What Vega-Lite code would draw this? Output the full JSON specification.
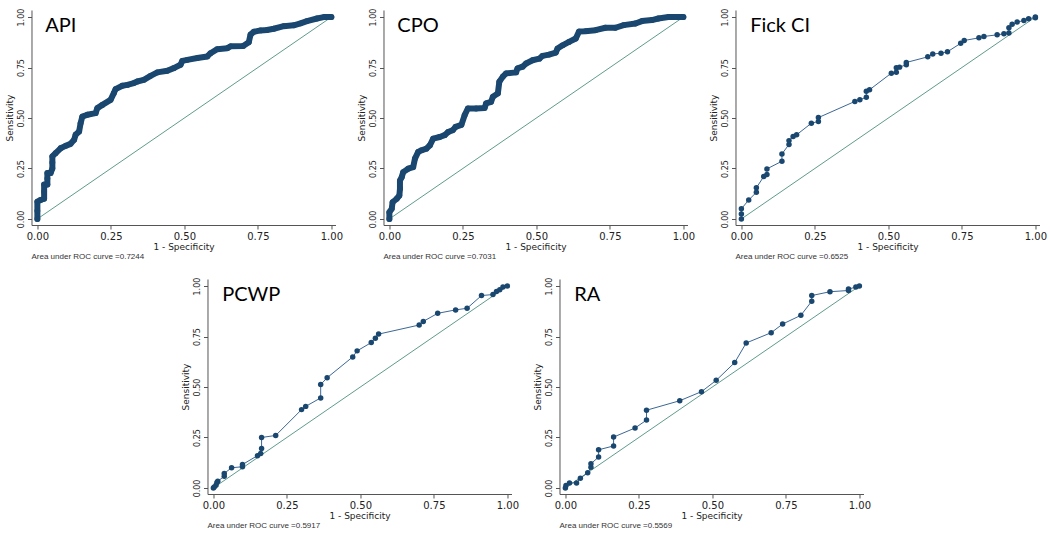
{
  "$schema": "https://vega.github.io/schema/vega-lite/v6.json",
  "background": "white",
  "padding": {"left": 5, "top": 8, "right": 5, "bottom": 5},
  "config": {
    "view": {"stroke": null},
    "axis": {"grid": false, "domainColor": "#555", "tickColor": "#555", "labelColor": "#222", "titleColor": "#222", "labelFont": "DejaVu Sans", "titleFont": "DejaVu Sans", "titleFontWeight": "normal", "tickSize": 4, "domainWidth": 1, "tickWidth": 1, "labelFlush": false},
    "axisX": {"labelFontSize": 10, "titleFontSize": 9, "labelPadding": 2, "titlePadding": 1},
    "axisY": {"labelFontSize": 8, "titleFontSize": 9, "labelAngle": 270, "labelAlign": "center", "labelBaseline": "bottom", "labelPadding": 2, "titlePadding": 3},
    "title": {"font": "Liberation Sans", "fontSize": 8, "fontWeight": "normal", "color": "#333", "orient": "bottom", "anchor": "start", "frame": "group", "offset": 2}
  },
  "datasets": {
    "api": [
      {"fpr":0,"sens":0},{"fpr":0,"sens":0.04},{"fpr":0,"sens":0.086},{"fpr":0.011,"sens":0.094},{"fpr":0.023,"sens":0.1},{"fpr":0.023,"sens":0.135},{"fpr":0.023,"sens":0.17},{"fpr":0.034,"sens":0.17},{"fpr":0.034,"sens":0.2},{"fpr":0.034,"sens":0.227},{"fpr":0.045,"sens":0.227},{"fpr":0.051,"sens":0.25},{"fpr":0.051,"sens":0.28},{"fpr":0.051,"sens":0.31},{"fpr":0.062,"sens":0.326},{"fpr":0.079,"sens":0.35},{"fpr":0.096,"sens":0.362},{"fpr":0.113,"sens":0.372},{"fpr":0.125,"sens":0.392},{"fpr":0.13,"sens":0.417},{"fpr":0.142,"sens":0.433},{"fpr":0.147,"sens":0.474},{"fpr":0.153,"sens":0.507},{"fpr":0.17,"sens":0.516},{"fpr":0.198,"sens":0.524},{"fpr":0.204,"sens":0.549},{"fpr":0.221,"sens":0.565},{"fpr":0.249,"sens":0.59},{"fpr":0.26,"sens":0.623},{"fpr":0.266,"sens":0.643},{"fpr":0.289,"sens":0.66},{"fpr":0.306,"sens":0.664},{"fpr":0.328,"sens":0.673},{"fpr":0.34,"sens":0.681},{"fpr":0.362,"sens":0.689},{"fpr":0.385,"sens":0.709},{"fpr":0.408,"sens":0.726},{"fpr":0.442,"sens":0.734},{"fpr":0.464,"sens":0.747},{"fpr":0.487,"sens":0.764},{"fpr":0.493,"sens":0.783},{"fpr":0.51,"sens":0.788},{"fpr":0.544,"sens":0.797},{"fpr":0.578,"sens":0.805},{"fpr":0.589,"sens":0.821},{"fpr":0.612,"sens":0.841},{"fpr":0.646,"sens":0.846},{"fpr":0.657,"sens":0.855},{"fpr":0.7,"sens":0.857},{"fpr":0.719,"sens":0.875},{"fpr":0.725,"sens":0.913},{"fpr":0.736,"sens":0.927},{"fpr":0.759,"sens":0.934},{"fpr":0.781,"sens":0.936},{"fpr":0.804,"sens":0.942},{"fpr":0.838,"sens":0.955},{"fpr":0.872,"sens":0.959},{"fpr":0.895,"sens":0.969},{"fpr":0.917,"sens":0.98},{"fpr":0.951,"sens":0.993},{"fpr":0.974,"sens":1},{"fpr":1,"sens":1}
    ],
    "cpo": [
      {"fpr":0,"sens":0},{"fpr":0,"sens":0.033},{"fpr":0.008,"sens":0.05},{"fpr":0.011,"sens":0.083},{"fpr":0.025,"sens":0.1},{"fpr":0.034,"sens":0.116},{"fpr":0.036,"sens":0.15},{"fpr":0.036,"sens":0.19},{"fpr":0.042,"sens":0.207},{"fpr":0.047,"sens":0.232},{"fpr":0.064,"sens":0.249},{"fpr":0.081,"sens":0.257},{"fpr":0.087,"sens":0.299},{"fpr":0.098,"sens":0.332},{"fpr":0.109,"sens":0.34},{"fpr":0.126,"sens":0.348},{"fpr":0.138,"sens":0.365},{"fpr":0.149,"sens":0.398},{"fpr":0.171,"sens":0.406},{"fpr":0.188,"sens":0.415},{"fpr":0.2,"sens":0.431},{"fpr":0.216,"sens":0.44},{"fpr":0.225,"sens":0.456},{"fpr":0.245,"sens":0.466},{"fpr":0.256,"sens":0.514},{"fpr":0.267,"sens":0.547},{"fpr":0.295,"sens":0.547},{"fpr":0.324,"sens":0.55},{"fpr":0.329,"sens":0.572},{"fpr":0.346,"sens":0.58},{"fpr":0.352,"sens":0.605},{"fpr":0.369,"sens":0.622},{"fpr":0.374,"sens":0.68},{"fpr":0.386,"sens":0.705},{"fpr":0.397,"sens":0.721},{"fpr":0.431,"sens":0.726},{"fpr":0.436,"sens":0.746},{"fpr":0.453,"sens":0.754},{"fpr":0.465,"sens":0.77},{"fpr":0.487,"sens":0.786},{"fpr":0.51,"sens":0.794},{"fpr":0.521,"sens":0.808},{"fpr":0.543,"sens":0.814},{"fpr":0.566,"sens":0.824},{"fpr":0.572,"sens":0.844},{"fpr":0.589,"sens":0.86},{"fpr":0.611,"sens":0.877},{"fpr":0.634,"sens":0.894},{"fpr":0.645,"sens":0.928},{"fpr":0.667,"sens":0.93},{"fpr":0.701,"sens":0.935},{"fpr":0.735,"sens":0.947},{"fpr":0.769,"sens":0.947},{"fpr":0.797,"sens":0.96},{"fpr":0.837,"sens":0.968},{"fpr":0.859,"sens":0.98},{"fpr":0.893,"sens":0.985},{"fpr":0.915,"sens":0.993},{"fpr":0.949,"sens":1},{"fpr":1,"sens":1}
    ],
    "fick": [
      {"fpr":0,"sens":0},{"fpr":0,"sens":0.025},{"fpr":0,"sens":0.05},{"fpr":0.025,"sens":0.094},{"fpr":0.051,"sens":0.132},{"fpr":0.051,"sens":0.154},{"fpr":0.076,"sens":0.21},{"fpr":0.087,"sens":0.22},{"fpr":0.087,"sens":0.248},{"fpr":0.138,"sens":0.286},{"fpr":0.138,"sens":0.322},{"fpr":0.162,"sens":0.369},{"fpr":0.162,"sens":0.388},{"fpr":0.176,"sens":0.408},{"fpr":0.188,"sens":0.417},{"fpr":0.238,"sens":0.474},{"fpr":0.262,"sens":0.483},{"fpr":0.262,"sens":0.502},{"fpr":0.386,"sens":0.582},{"fpr":0.403,"sens":0.59},{"fpr":0.425,"sens":0.603},{"fpr":0.425,"sens":0.633},{"fpr":0.436,"sens":0.64},{"fpr":0.51,"sens":0.722},{"fpr":0.527,"sens":0.727},{"fpr":0.527,"sens":0.749},{"fpr":0.538,"sens":0.752},{"fpr":0.561,"sens":0.764},{"fpr":0.561,"sens":0.775},{"fpr":0.634,"sens":0.803},{"fpr":0.651,"sens":0.817},{"fpr":0.679,"sens":0.821},{"fpr":0.701,"sens":0.828},{"fpr":0.746,"sens":0.87},{"fpr":0.758,"sens":0.884},{"fpr":0.808,"sens":0.897},{"fpr":0.825,"sens":0.904},{"fpr":0.87,"sens":0.912},{"fpr":0.893,"sens":0.917},{"fpr":0.91,"sens":0.921},{"fpr":0.91,"sens":0.947},{"fpr":0.921,"sens":0.964},{"fpr":0.938,"sens":0.975},{"fpr":0.961,"sens":0.983},{"fpr":0.977,"sens":0.992},{"fpr":1,"sens":0.997},{"fpr":1,"sens":1}
    ],
    "pcwp": [
      {"fpr":0,"sens":0},{"fpr":0.003,"sens":0.005},{"fpr":0.009,"sens":0.013},{"fpr":0.012,"sens":0.027},{"fpr":0.015,"sens":0.033},{"fpr":0.037,"sens":0.058},{"fpr":0.037,"sens":0.072},{"fpr":0.062,"sens":0.1},{"fpr":0.099,"sens":0.105},{"fpr":0.099,"sens":0.116},{"fpr":0.15,"sens":0.16},{"fpr":0.161,"sens":0.171},{"fpr":0.164,"sens":0.196},{"fpr":0.164,"sens":0.25},{"fpr":0.212,"sens":0.26},{"fpr":0.3,"sens":0.388},{"fpr":0.314,"sens":0.404},{"fpr":0.365,"sens":0.446},{"fpr":0.365,"sens":0.512},{"fpr":0.387,"sens":0.546},{"fpr":0.474,"sens":0.649},{"fpr":0.489,"sens":0.679},{"fpr":0.537,"sens":0.72},{"fpr":0.551,"sens":0.742},{"fpr":0.562,"sens":0.762},{"fpr":0.7,"sens":0.807},{"fpr":0.714,"sens":0.825},{"fpr":0.763,"sens":0.865},{"fpr":0.824,"sens":0.882},{"fpr":0.863,"sens":0.89},{"fpr":0.912,"sens":0.953},{"fpr":0.951,"sens":0.958},{"fpr":0.963,"sens":0.973},{"fpr":0.974,"sens":0.982},{"fpr":0.985,"sens":0.995},{"fpr":1,"sens":1}
    ],
    "ra": [
      {"fpr":0,"sens":0},{"fpr":0.002,"sens":0.012},{"fpr":0.014,"sens":0.025},{"fpr":0.038,"sens":0.025},{"fpr":0.051,"sens":0.048},{"fpr":0.076,"sens":0.075},{"fpr":0.087,"sens":0.103},{"fpr":0.087,"sens":0.12},{"fpr":0.113,"sens":0.153},{"fpr":0.113,"sens":0.189},{"fpr":0.164,"sens":0.208},{"fpr":0.164,"sens":0.252},{"fpr":0.237,"sens":0.297},{"fpr":0.276,"sens":0.336},{"fpr":0.276,"sens":0.385},{"fpr":0.389,"sens":0.432},{"fpr":0.463,"sens":0.477},{"fpr":0.513,"sens":0.533},{"fpr":0.576,"sens":0.621},{"fpr":0.615,"sens":0.718},{"fpr":0.7,"sens":0.769},{"fpr":0.739,"sens":0.812},{"fpr":0.801,"sens":0.855},{"fpr":0.838,"sens":0.925},{"fpr":0.838,"sens":0.953},{"fpr":0.9,"sens":0.972},{"fpr":0.963,"sens":0.978},{"fpr":0.963,"sens":0.985},{"fpr":0.988,"sens":0.995},{"fpr":1,"sens":1}
    ]
  },
  "vconcat": [
    {
      "hconcat": [
        {
          "width": 304, "height": 215,
          "title": {"text": "Area under ROC curve =0.7244"},
          "layer": [
            {"data": {"values": [{}]}, "mark": {"type": "rule", "color": "#5f9c8c", "strokeWidth": 1}, "encoding": {"x": {"datum": 0, "type": "quantitative", "scale": {"domain": [-0.02, 1.014], "nice": false, "zero": false}, "axis": {"title": "1 - Specificity", "values": [0, 0.25, 0.5, 0.75, 1], "format": ".2f"}}, "y": {"datum": 0, "type": "quantitative", "scale": {"domain": [-0.03, 1.035], "nice": false, "zero": false}, "axis": {"title": "Sensitivity", "values": [0, 0.25, 0.5, 0.75, 1], "format": ".2f"}}, "x2": {"datum": 1}, "y2": {"datum": 1}}},
            {"data": {"name": "api"}, "mark": {"type": "line", "color": "#1a476f", "strokeWidth": 6, "strokeJoin": "round", "strokeCap": "round"}, "encoding": {"x": {"field": "fpr", "type": "quantitative"}, "y": {"field": "sens", "type": "quantitative"}}},
            {"data": {"name": "api"}, "mark": {"type": "point", "filled": true, "color": "#1a476f", "size": 34, "opacity": 1}, "encoding": {"x": {"field": "fpr", "type": "quantitative"}, "y": {"field": "sens", "type": "quantitative"}}},
            {"data": {"values": [{}]}, "mark": {"type": "text", "font": "Lato", "fontSize": 20, "align": "left", "baseline": "middle", "color": "#000"}, "encoding": {"x": {"datum": 0.027, "type": "quantitative"}, "y": {"datum": 0.955, "type": "quantitative"}, "text": {"value": "API"}}}
          ]
        },
        {
          "width": 304, "height": 215,
          "title": {"text": "Area under ROC curve =0.7031"},
          "layer": [
            {"data": {"values": [{}]}, "mark": {"type": "rule", "color": "#5f9c8c", "strokeWidth": 1}, "encoding": {"x": {"datum": 0, "type": "quantitative", "scale": {"domain": [-0.02, 1.014], "nice": false, "zero": false}, "axis": {"title": "1 - Specificity", "values": [0, 0.25, 0.5, 0.75, 1], "format": ".2f"}}, "y": {"datum": 0, "type": "quantitative", "scale": {"domain": [-0.03, 1.035], "nice": false, "zero": false}, "axis": {"title": "Sensitivity", "values": [0, 0.25, 0.5, 0.75, 1], "format": ".2f"}}, "x2": {"datum": 1}, "y2": {"datum": 1}}},
            {"data": {"name": "cpo"}, "mark": {"type": "line", "color": "#1a476f", "strokeWidth": 6, "strokeJoin": "round", "strokeCap": "round"}, "encoding": {"x": {"field": "fpr", "type": "quantitative"}, "y": {"field": "sens", "type": "quantitative"}}},
            {"data": {"name": "cpo"}, "mark": {"type": "point", "filled": true, "color": "#1a476f", "size": 34, "opacity": 1}, "encoding": {"x": {"field": "fpr", "type": "quantitative"}, "y": {"field": "sens", "type": "quantitative"}}},
            {"data": {"values": [{}]}, "mark": {"type": "text", "font": "Lato", "fontSize": 20, "align": "left", "baseline": "middle", "color": "#000"}, "encoding": {"x": {"datum": 0.027, "type": "quantitative"}, "y": {"datum": 0.955, "type": "quantitative"}, "text": {"value": "CPO"}}}
          ]
        },
        {
          "width": 304, "height": 215,
          "title": {"text": "Area under ROC curve =0.6525"},
          "layer": [
            {"data": {"values": [{}]}, "mark": {"type": "rule", "color": "#5f9c8c", "strokeWidth": 1}, "encoding": {"x": {"datum": 0, "type": "quantitative", "scale": {"domain": [-0.02, 1.014], "nice": false, "zero": false}, "axis": {"title": "1 - Specificity", "values": [0, 0.25, 0.5, 0.75, 1], "format": ".2f"}}, "y": {"datum": 0, "type": "quantitative", "scale": {"domain": [-0.03, 1.035], "nice": false, "zero": false}, "axis": {"title": "Sensitivity", "values": [0, 0.25, 0.5, 0.75, 1], "format": ".2f"}}, "x2": {"datum": 1}, "y2": {"datum": 1}}},
            {"data": {"name": "fick"}, "mark": {"type": "line", "color": "#3c6796", "strokeWidth": 1}, "encoding": {"x": {"field": "fpr", "type": "quantitative"}, "y": {"field": "sens", "type": "quantitative"}}},
            {"data": {"name": "fick"}, "mark": {"type": "point", "filled": true, "color": "#1a476f", "size": 30, "opacity": 1}, "encoding": {"x": {"field": "fpr", "type": "quantitative"}, "y": {"field": "sens", "type": "quantitative"}}},
            {"data": {"values": [{}]}, "mark": {"type": "text", "font": "Lato", "fontSize": 20, "align": "left", "baseline": "middle", "color": "#000"}, "encoding": {"x": {"datum": 0.03, "type": "quantitative"}, "y": {"datum": 0.955, "type": "quantitative"}, "text": {"value": "Fick CI"}}}
          ]
        }
      ],
      "spacing": 48,
      "bounds": "flush"
    },
    {
      "hconcat": [
        {
          "width": 304, "height": 215,
          "title": {"text": "Area under ROC curve =0.5917"},
          "layer": [
            {"data": {"values": [{}]}, "mark": {"type": "rule", "color": "#5f9c8c", "strokeWidth": 1}, "encoding": {"x": {"datum": 0, "type": "quantitative", "scale": {"domain": [-0.02, 1.014], "nice": false, "zero": false}, "axis": {"title": "1 - Specificity", "values": [0, 0.25, 0.5, 0.75, 1], "format": ".2f"}}, "y": {"datum": 0, "type": "quantitative", "scale": {"domain": [-0.03, 1.035], "nice": false, "zero": false}, "axis": {"title": "Sensitivity", "values": [0, 0.25, 0.5, 0.75, 1], "format": ".2f"}}, "x2": {"datum": 1}, "y2": {"datum": 1}}},
            {"data": {"name": "pcwp"}, "mark": {"type": "line", "color": "#3c6796", "strokeWidth": 1}, "encoding": {"x": {"field": "fpr", "type": "quantitative"}, "y": {"field": "sens", "type": "quantitative"}}},
            {"data": {"name": "pcwp"}, "mark": {"type": "point", "filled": true, "color": "#1a476f", "size": 30, "opacity": 1}, "encoding": {"x": {"field": "fpr", "type": "quantitative"}, "y": {"field": "sens", "type": "quantitative"}}},
            {"data": {"values": [{}]}, "mark": {"type": "text", "font": "Lato", "fontSize": 20, "align": "left", "baseline": "middle", "color": "#000"}, "encoding": {"x": {"datum": 0.03, "type": "quantitative"}, "y": {"datum": 0.955, "type": "quantitative"}, "text": {"value": "PCWP"}}}
          ]
        },
        {
          "width": 304, "height": 215,
          "title": {"text": "Area under ROC curve =0.5569"},
          "layer": [
            {"data": {"values": [{}]}, "mark": {"type": "rule", "color": "#5f9c8c", "strokeWidth": 1}, "encoding": {"x": {"datum": 0, "type": "quantitative", "scale": {"domain": [-0.02, 1.014], "nice": false, "zero": false}, "axis": {"title": "1 - Specificity", "values": [0, 0.25, 0.5, 0.75, 1], "format": ".2f"}}, "y": {"datum": 0, "type": "quantitative", "scale": {"domain": [-0.03, 1.035], "nice": false, "zero": false}, "axis": {"title": "Sensitivity", "values": [0, 0.25, 0.5, 0.75, 1], "format": ".2f"}}, "x2": {"datum": 1}, "y2": {"datum": 1}}},
            {"data": {"name": "ra"}, "mark": {"type": "line", "color": "#3c6796", "strokeWidth": 1}, "encoding": {"x": {"field": "fpr", "type": "quantitative"}, "y": {"field": "sens", "type": "quantitative"}}},
            {"data": {"name": "ra"}, "mark": {"type": "point", "filled": true, "color": "#1a476f", "size": 30, "opacity": 1}, "encoding": {"x": {"field": "fpr", "type": "quantitative"}, "y": {"field": "sens", "type": "quantitative"}}},
            {"data": {"values": [{}]}, "mark": {"type": "text", "font": "Lato", "fontSize": 20, "align": "left", "baseline": "middle", "color": "#000"}, "encoding": {"x": {"datum": 0.03, "type": "quantitative"}, "y": {"datum": 0.955, "type": "quantitative"}, "text": {"value": "RA"}}}
          ]
        }
      ],
      "spacing": 48,
      "bounds": "flush"
    }
  ],
  "spacing": 16,
  "center": true
}
